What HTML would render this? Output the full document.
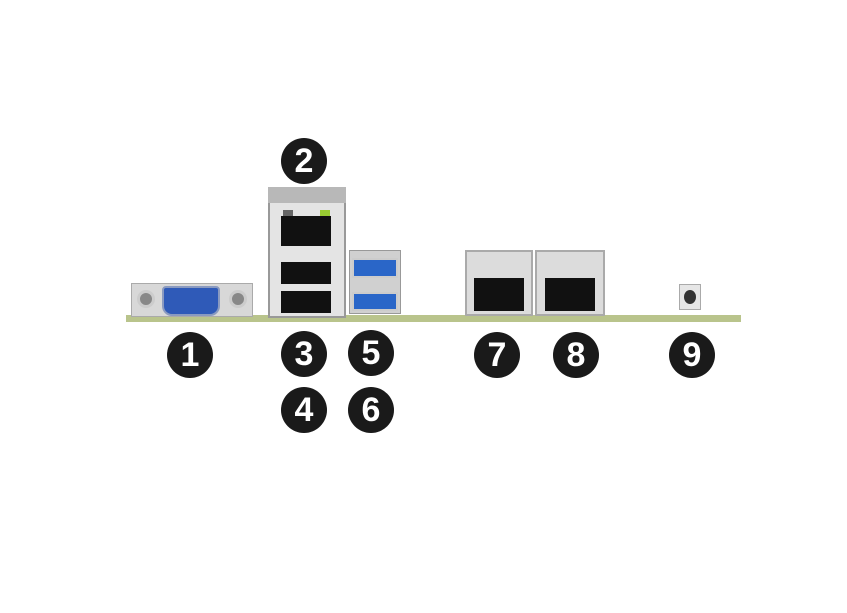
<!DOCTYPE html><html><head><style>
body{margin:0;width:847px;height:613px;background:#fff;position:relative;overflow:hidden;font-family:"Liberation Sans",sans-serif}
div{position:absolute;box-sizing:border-box}
.c{width:46px;height:46px;border-radius:50%;background:#1a1a1a;color:#fff;font-weight:bold;font-size:34px;line-height:46px;text-align:center}
.blk{background:#111}
</style></head><body>
<div style="left:126px;top:315px;width:615px;height:7px;background:#b9c48c"></div>
<!-- VGA -->
<div style="left:131px;top:283px;width:122px;height:34px;background:#d8d8d8;border:1px solid #aaa"></div>
<div style="left:137px;top:290px;width:18px;height:18px;border-radius:50%;background:#888;border:3px solid #ccc"></div>
<div style="left:229px;top:290px;width:18px;height:18px;border-radius:50%;background:#888;border:3px solid #ccc"></div>
<div style="left:162px;top:286px;width:58px;height:30px;background:#2f5ab8;border-radius:4px 4px 10px 10px;border:2px solid #8a9ac0"></div>
<!-- stacked RJ45 + USB -->
<div style="left:268px;top:187px;width:78px;height:131px;background:#e4e4e4;border:2px solid #999"></div>
<div style="left:268px;top:187px;width:78px;height:16px;background:#b8b8b8"></div>
<div style="left:283px;top:210px;width:10px;height:6px;background:#666"></div>
<div style="left:320px;top:210px;width:10px;height:6px;background:#9c3"></div>
<div class="blk" style="left:281px;top:216px;width:50px;height:30px"></div>
<div class="blk" style="left:281px;top:262px;width:50px;height:22px"></div>
<div class="blk" style="left:281px;top:291px;width:50px;height:22px"></div>
<!-- USB3 -->
<div style="left:349px;top:250px;width:52px;height:64px;background:#d0d0d0;border:1px solid #999"></div>
<div style="left:352px;top:258px;width:46px;height:20px;background:#2a66c8;border:2px solid #ccc"></div>
<div style="left:352px;top:292px;width:46px;height:19px;background:#2a66c8;border:2px solid #ccc"></div>
<!-- RJ45 7/8 -->
<div style="left:465px;top:250px;width:68px;height:66px;background:#dcdcdc;border:2px solid #aaa"></div>
<div class="blk" style="left:474px;top:278px;width:50px;height:33px"></div>
<div style="left:535px;top:250px;width:70px;height:66px;background:#dcdcdc;border:2px solid #aaa"></div>
<div class="blk" style="left:545px;top:278px;width:50px;height:33px"></div>
<!-- button -->
<div style="left:679px;top:284px;width:22px;height:26px;background:#e6e6e6;border:1px solid #aaa"></div>
<div style="left:684px;top:290px;width:12px;height:14px;border-radius:50%;background:#333"></div>
<div class="c" style="left:167px;top:332px">1</div>
<div class="c" style="left:281px;top:138px">2</div>
<div class="c" style="left:281px;top:331px">3</div>
<div class="c" style="left:281px;top:387px">4</div>
<div class="c" style="left:348px;top:330px">5</div>
<div class="c" style="left:348px;top:387px">6</div>
<div class="c" style="left:474px;top:332px">7</div>
<div class="c" style="left:553px;top:332px">8</div>
<div class="c" style="left:669px;top:332px">9</div>
</body></html>
